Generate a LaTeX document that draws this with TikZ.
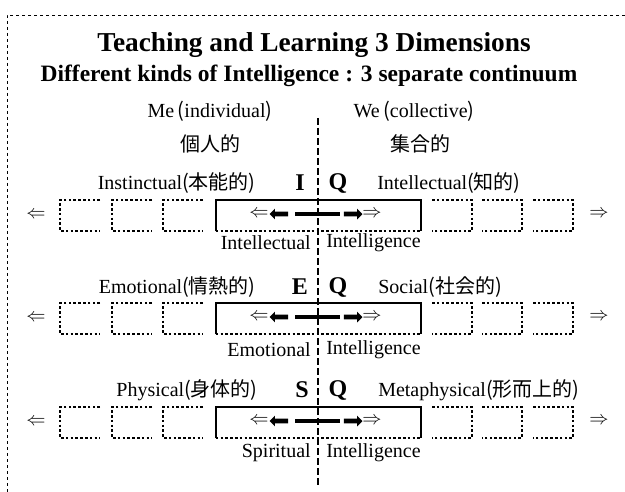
\documentclass[tikz,border=0pt]{standalone}
\usepackage{fontspec}
\setmainfont{Liberation Serif}
\newfontfamily\jp{Noto Sans CJK JP}
\usetikzlibrary{arrows.meta,positioning,shapes.arrows}

\begin{document}
\begin{tikzpicture}[x=0.75pt, y=-0.75pt,
    heading/.style={font=\fontsize{20.5}{24}\selectfont\bfseries, inner sep=0pt},
    subheading/.style={font=\fontsize{17.6}{21}\selectfont\bfseries, inner sep=0pt},
    lab/.style={font=\fontsize{15}{18}\selectfont, inner sep=0pt},
    letter/.style={font=\fontsize{18}{21}\selectfont\bfseries, inner sep=0pt},
    mainbox/.style={minimum width=153.75pt, minimum height=23.25pt, inner sep=0pt},
    fatarrow/.style={single arrow, fill=black, inner sep=1.5pt, minimum height=14pt, minimum width=8pt, single arrow head extend=2.2pt},
    solidside/.style={line width=1.4pt},
    dotline/.style={line width=1.2pt, dash pattern=on 2pt off 1.6pt},
    bar/.style={line width=2.4pt},
    frame/.style={line width=0.6pt, dash pattern=on 2.5pt off 2pt},
    midline/.style={line width=0.8pt, dash pattern=on 5pt off 2.5pt},
]
    \useasboundingbox (0,0) rectangle (625,492);
    \draw[frame] (625,15) -- (7,15) -- (7,492);

    % Headings
    \node[heading] (title) at (314,45) {Teaching and Learning 3 Dimensions};
    \node[subheading] (subtitle) at (309,76) {Different kinds of Intelligence : 3 separate continuum};
    \node[lab] (me) at (210,111) {Me\,{\jp (}individual{\jp )}};
    \node[lab] (we) at (414,111) {We\,{\jp (}collective{\jp )}};
    \node[lab] (mejp) at (210,144) {\jp 個人的};
    \node[lab] (wejp) at (420,144) {\jp 集合的};

    % Me / We divider
    \coordinate (ctop) at (318,118);
    \coordinate (cbot) at (318,485);
    \draw[midline] (ctop) -- (cbot);

    % Dotted boxes on both sides
    \foreach \r in {0,103,207} {
        \foreach \x in {80,132,183}
            \draw[dotline] (\x+20,200+\r) -| (\x-20,231+\r) -- (\x+20,231+\r);
        \foreach \x in {452,502,553}
            \draw[dotline] (\x-20,200+\r) -| (\x+20,231+\r) -- (\x-20,231+\r);
    }

    % IQ row
    \node[lab, anchor=east] (inst) at (256,183) {Instinctual{\jp (本能的)}};
    \node[letter] (iqi) at (300,183) {I};
    \node[letter] (iqq) at (338,183) {Q};
    \node[lab, anchor=west] (intel) at (377,183) {Intellectual{\jp (知的)}};
    \node[lab] (iqfl) at (36,215) {$\Leftarrow$};
    \node[lab] (iqfr) at (599,214) {$\Rightarrow$};
    \node[mainbox] (iq) at (318.5,215.5) {};
    \draw[solidside] (iq.south west) |- (iq.north east) -- (iq.south east);
    \draw[dotline] (iq.south west) -- (iq.south east);
    \node[lab] (iql) at (259,214) {$\Leftarrow$};
    \node[fatarrow, shape border rotate=180] (iqa) at (280,214) {};
    \node[fatarrow] (iqb) at (352,214) {};
    \node[lab] (iqr) at (372,214) {$\Rightarrow$};
    \draw[bar, shorten <=5pt, shorten >=3pt] (iqa.tail) -- (iqb.tail);
    \node[lab, anchor=east] (iqlow1) at (311,243) {Intellectual};
    \node[lab, anchor=west] (iqlow2) at (326,243) {Intelligence};

    % EQ row
    \node[lab, anchor=east] (emo) at (256,287) {Emotional{\jp (情熱的)}};
    \node[letter] (eqe) at (300,287) {E};
    \node[letter] (eqq) at (338,287) {Q};
    \node[lab, anchor=west] (soc) at (378,287) {Social{\jp (社会的)}};
    \node[lab] (eqfl) at (36,318) {$\Leftarrow$};
    \node[lab] (eqfr) at (599,317) {$\Rightarrow$};
    \node[mainbox] (eq) at (318.5,318.5) {};
    \draw[solidside] (eq.south west) |- (eq.north east) -- (eq.south east);
    \draw[dotline] (eq.south west) -- (eq.south east);
    \node[lab] (eql) at (259,317) {$\Leftarrow$};
    \node[fatarrow, shape border rotate=180] (eqa) at (280,317) {};
    \node[fatarrow] (eqb) at (352,317) {};
    \node[lab] (eqr) at (372,317) {$\Rightarrow$};
    \draw[bar, shorten <=5pt, shorten >=3pt] (eqa.tail) -- (eqb.tail);
    \node[lab, anchor=east] (eqlow1) at (311,350) {Emotional};
    \node[lab, anchor=west] (eqlow2) at (326,350) {Intelligence};

    % SQ row
    \node[lab, anchor=east] (phys) at (258,390) {Physical{\jp (身体的)}};
    \node[letter] (sqs) at (302,390) {S};
    \node[letter] (sqq) at (338,390) {Q};
    \node[lab, anchor=west] (meta) at (378,390) {Metaphysical{\jp (形而上的)}};
    \node[lab] (sqfl) at (36,422) {$\Leftarrow$};
    \node[lab] (sqfr) at (599,421) {$\Rightarrow$};
    \node[mainbox] (sq) at (318.5,422.5) {};
    \draw[solidside] (sq.south west) |- (sq.north east) -- (sq.south east);
    \draw[dotline] (sq.south west) -- (sq.south east);
    \node[lab] (sql) at (259,421) {$\Leftarrow$};
    \node[fatarrow, shape border rotate=180] (sqa) at (280,421) {};
    \node[fatarrow] (sqb) at (352,421) {};
    \node[lab] (sqr) at (372,421) {$\Rightarrow$};
    \draw[bar, shorten <=5pt, shorten >=3pt] (sqa.tail) -- (sqb.tail);
    \node[lab, anchor=east] (sqlow1) at (311,453) {Spiritual};
    \node[lab, anchor=west] (sqlow2) at (326,453) {Intelligence};
\end{tikzpicture}
\end{document}
